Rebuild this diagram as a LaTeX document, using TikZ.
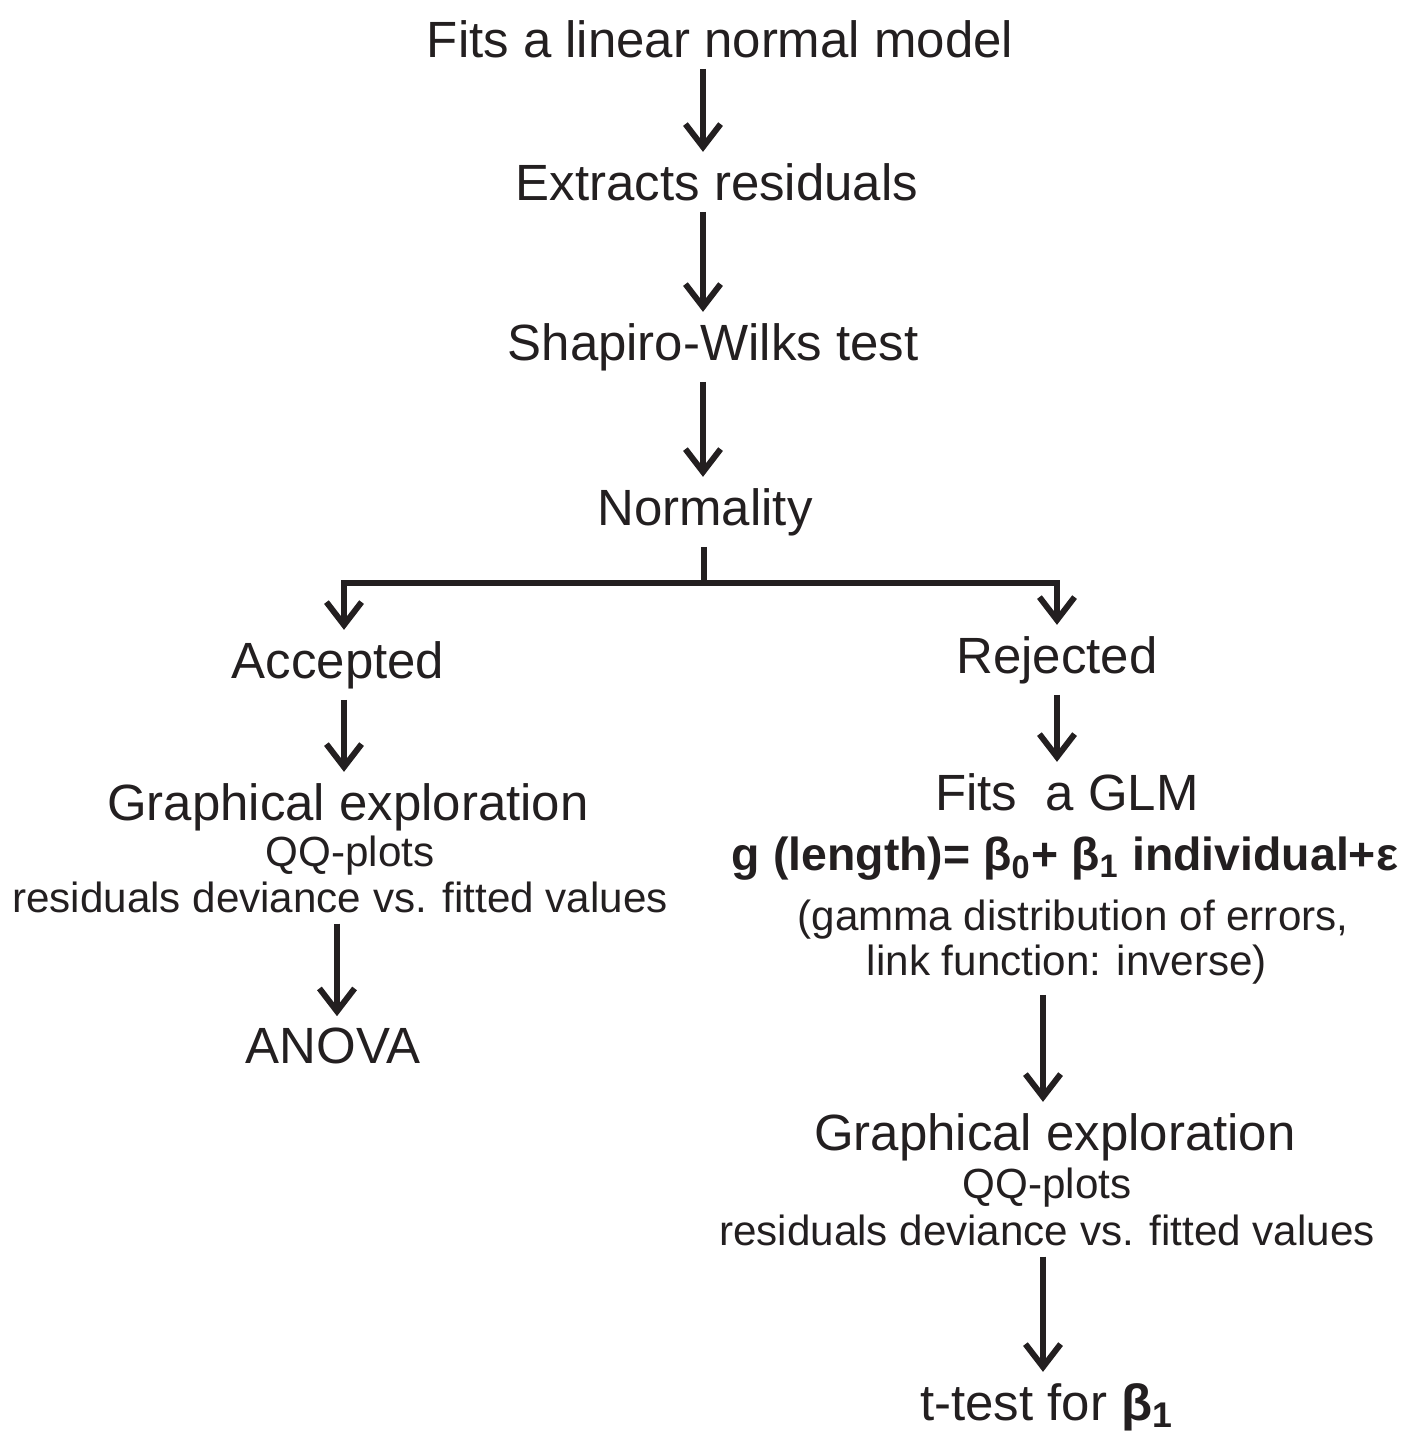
\documentclass[tikz,border=0pt]{standalone}
\usepackage{fontspec}
\setmainfont{Liberation Sans}
\usetikzlibrary{positioning,calc,arrows.meta}
\definecolor{ink}{HTML}{231F20}

\begin{document}
\begin{tikzpicture}[
    big/.style={inner sep=3pt, anchor=base, font=\fontsize{14.5}{17}\selectfont, text=ink},
    small/.style={inner sep=3pt, anchor=base, font=\fontsize{12}{14}\selectfont, text=ink},
    formula/.style={inner sep=3pt, anchor=base, font=\fontsize{13.2}{16}\selectfont\bfseries, text=ink},
    arr/.style={draw=ink, line width=1.7pt, -{Straight Barb[length=6.5pt,width=10pt]}},
    link/.style={draw=ink, line width=1.7pt}
]
\useasboundingbox (0,0) rectangle (14.13,-14.34);

% Columns of the arrows
\coordinate (spine) at (7.03,0);
\coordinate (lcol) at (3.44,0);
\coordinate (lcol2) at (3.37,0);
\coordinate (rcol) at (10.57,0);
\coordinate (rcol2) at (10.43,0);
\coordinate (fork) at (7.04,-5.83);

% Main chain
\node[big] (fits) at (7.20,-0.57) {Fits a linear normal model};
\node[big] (extr) at (7.17,-2.00) {Extracts residuals};
\node[big] (shap) at (7.13,-3.60) {Shapiro-Wilks test};
\node[big] (norm) at (7.05,-5.25) {Normality};

% Accepted branch
\node[big] (acc) at (3.38,-6.78) {Accepted};
\node[big] (gexpl) at (3.48,-8.20) {Graphical exploration};
\node[small] (qql) at (3.50,-8.66) {QQ-plots};
\node[small] (resl) at (3.40,-9.12) {residuals deviance vs. fitted values};
\node[big] (anova) at (3.33,-10.63) {ANOVA};

% Rejected branch
\node[big] (rej) at (10.57,-6.73) {Rejected};
\node[big] (glm) at (10.67,-8.10) {Fits\ \ a GLM};
\node[formula] (eq) at (10.65,-8.70) {g (length)= β\textsubscript{0}+ β\textsubscript{1} individual+ε};
\node[small] (gam) at (10.73,-9.30) {(gamma distribution of errors,};
\node[small] (lnk) at (10.67,-9.75) {link function: inverse)};
\node[big] (gexpr) at (10.55,-11.50) {Graphical exploration};
\node[small] (qqr) at (10.47,-11.98) {QQ-plots};
\node[small] (resr) at (10.47,-12.45) {residuals deviance vs. fitted values};
\node[big] (ttest) at (10.47,-14.20) {t-test for \textbf{β}\textsubscript{\bfseries 1}};

% Arrows of the main chain
\draw[arr] (fits.south -| spine) -- (extr.north -| spine);
\draw[arr] (extr.south -| spine) -- (shap.north -| spine);
\draw[arr] (shap.south -| spine) -- (norm.north -| spine);

% Split
\draw[link] (norm.south -| fork) -- (fork);
\draw[arr] (fork) -| (acc.north -| lcol);
\draw[arr] (fork) -| (rej.north -| rcol);

% Arrows of the branches
\draw[arr] (acc.south -| lcol) -- (gexpl.north -| lcol);
\draw[arr] (resl.south -| lcol2) -- (anova.north -| lcol2);
\draw[arr] (rej.south -| rcol) -- (glm.north -| rcol);
\draw[arr] (lnk.south -| rcol2) -- (gexpr.north -| rcol2);
\draw[arr] (resr.south -| rcol2) -- (ttest.north -| rcol2);

\end{tikzpicture}
\end{document}
